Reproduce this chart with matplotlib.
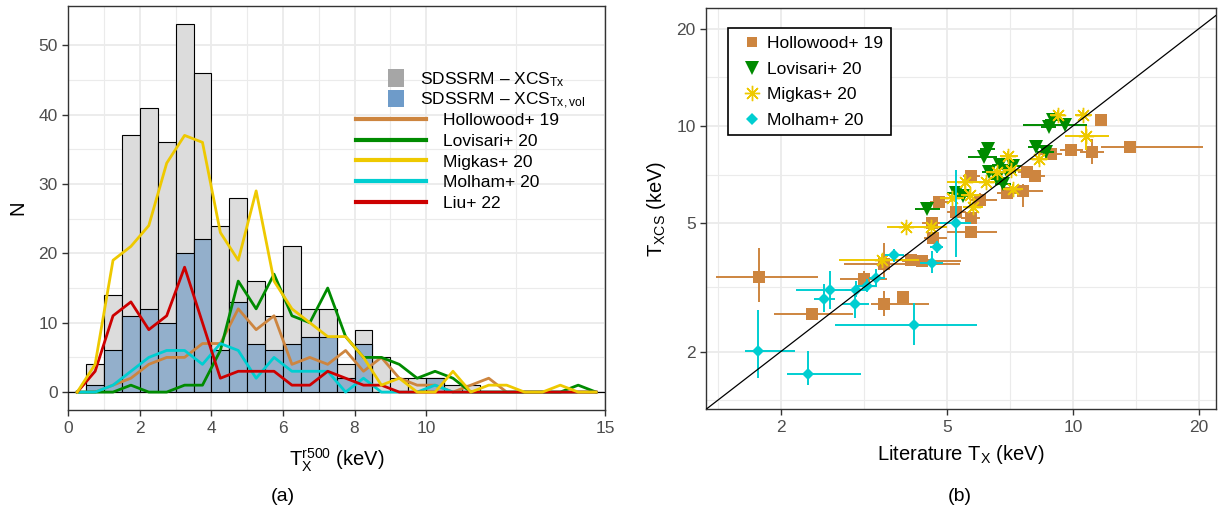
import numpy as np
import matplotlib
matplotlib.use("Agg")
import matplotlib.pyplot as plt
from matplotlib.patches import Patch
from matplotlib.lines import Line2D

plt.rcParams['font.family'] = ['Liberation Sans', 'DejaVu Sans']
plt.rcParams['mathtext.fontset'] = 'custom'
plt.rcParams['mathtext.rm'] = 'Liberation Sans'
plt.rcParams['mathtext.it'] = 'Liberation Sans:italic'

# ---- panel (a): histogram of T_X, 0.5 keV bins from 0 to 15 ----
bin_width = 0.5
bin_lo = 0.0
n_all = [0, 4, 14, 37, 41, 36, 53, 46, 24, 28, 16, 11, 21, 12, 12,
         4, 9, 5, 2, 2, 2, 1, 1, 0, 0, 0, 0, 0, 0, 0]
n_vol = [0, 1, 6, 11, 12, 10, 20, 22, 6, 13, 7, 6, 7, 8, 8,
         2, 7, 0, 0, 0, 2, 0, 0, 0, 0, 0, 0, 0, 0, 0]
hollowood_n = [0, 0, 1, 2, 4, 5, 5, 7, 7, 12, 9, 11, 4, 5, 4,
               6, 3, 5, 2, 1, 1, 0, 1, 2, 0, 0, 0, 0, 0, 0]
lovisari_n = [0, 0, 0, 1, 0, 0, 1, 1, 6, 16, 12, 17, 11, 10, 15,
              8, 5, 5, 4, 2, 3, 2, 0, 0, 0, 0, 0, 0, 1, 0]
migkas_n = [0, 4, 19, 21, 24, 33, 37, 36, 23, 19, 29, 16, 12, 10, 8,
            8, 5, 1, 2, 0, 0, 3, 0, 1, 1, 0, 0, 1, 0, 0]
molham_n = [0, 0, 1, 3, 5, 6, 6, 4, 7, 6, 2, 5, 3, 3, 3,
            0, 2, 0, 0, 0, 1, 0, 0, 0, 0, 0, 0, 0, 0, 0]
liu_n = [0, 3, 11, 13, 9, 11, 18, 10, 2, 3, 3, 3, 1, 1, 3,
         2, 1, 1, 0, 0, 0, 0, 0, 0, 0, 0, 0, 0, 0, 0]

# ---- panel (b): literature vs XCS temperatures (value, lower, upper) ----
hol_x = [1.77, 2.38, 3.16, 3.53, 3.92, 3.53, 4.09, 4.35, 4.63, 4.60, 4.78, 5.26, 5.72,
         5.70, 5.99, 5.72, 6.95, 7.60, 7.75, 8.10, 8.85, 9.90, 11.1, 13.7, 11.7]
hol_xlo = [1.40, 1.93, 2.77, 3.28, 3.80, 2.83, 3.70, 3.90, 4.40, 4.35, 4.55, 5.00, 5.00,
           5.40, 5.70, 5.45, 6.60, 7.20, 7.40, 7.70, 8.30, 9.30, 10.4, 11.7, 11.3]
hol_xhi = [2.45, 2.97, 3.59, 4.52, 4.05, 5.37, 4.60, 5.40, 5.00, 4.85, 5.05, 5.55, 6.60,
           6.00, 6.60, 6.00, 7.30, 8.50, 8.10, 8.60, 9.40, 10.6, 11.9, 20.5, 12.1]
hol_y = [3.40, 2.62, 3.36, 2.80, 2.96, 3.74, 3.85, 3.83, 4.51, 5.00, 5.80, 5.40, 4.70,
         5.20, 5.90, 7.00, 6.20, 6.30, 7.20, 7.00, 8.20, 8.40, 8.30, 8.60, 10.4]
hol_ylo = [2.85, 2.55, 3.20, 2.57, 2.88, 3.38, 3.70, 3.70, 4.35, 4.80, 5.55, 5.20, 4.55,
           5.00, 5.60, 6.70, 5.95, 5.60, 6.90, 6.75, 7.90, 8.10, 7.60, 8.35, 10.1]
hol_yhi = [4.19, 2.70, 3.55, 3.09, 3.04, 4.34, 4.00, 3.98, 4.65, 5.20, 6.05, 5.60, 4.85,
           5.40, 6.20, 7.30, 6.45, 6.60, 7.50, 7.30, 8.50, 8.70, 9.10, 8.85, 10.7]

lov_x = [4.48, 5.26, 5.45, 6.12, 6.25, 6.57, 6.69, 6.95, 7.19, 6.30, 8.16, 8.61, 8.75, 8.97, 9.60, 6.80]
lov_xlo = [4.20, 5.00, 5.20, 5.60, 6.00, 6.30, 6.40, 6.60, 6.90, 6.05, 7.80, 8.20, 8.40, 8.60, 7.60, 6.50]
lov_xhi = [4.80, 5.60, 5.70, 6.60, 6.50, 6.85, 7.00, 7.30, 7.50, 6.55, 8.50, 9.00, 9.10, 9.35, 10.8, 7.10]
lov_y = [5.55, 6.18, 6.05, 8.02, 8.50, 6.87, 7.58, 7.20, 7.49, 7.20, 8.60, 8.30, 9.90, 10.4, 10.1, 6.60]

mig_x = [3.50, 3.98, 4.57, 5.14, 5.53, 5.68, 5.76, 6.19, 6.57, 7.00, 7.10, 7.18, 8.30, 9.20, 10.6, 10.78]
mig_xlo = [2.75, 3.60, 4.20, 4.80, 5.00, 5.40, 5.45, 5.90, 6.20, 6.70, 6.80, 6.80, 7.90, 8.80, 10.1, 9.60]
mig_xhi = [4.28, 4.40, 5.00, 5.50, 6.10, 6.00, 6.10, 6.50, 6.90, 7.40, 7.50, 7.60, 8.70, 9.60, 11.1, 12.2]
mig_y = [3.85, 4.87, 4.88, 5.97, 6.70, 6.10, 5.63, 6.70, 7.20, 8.10, 7.30, 6.40, 7.90, 10.8, 10.8, 9.30]
mig_ylo = [3.70, 4.75, 4.75, 5.80, 6.30, 5.90, 5.45, 6.50, 7.00, 7.85, 7.10, 6.20, 7.60, 10.4, 10.4, 8.40]
mig_yhi = [4.00, 5.00, 5.00, 6.15, 7.10, 6.30, 5.80, 6.90, 7.40, 8.35, 7.50, 6.60, 8.20, 11.2, 11.2, 10.0]

mol_x = [1.76, 2.32, 2.63, 2.54, 3.01, 3.02, 3.22, 3.38, 4.16, 3.73, 4.60, 4.72, 5.26]
mol_xlo = [1.64, 2.07, 2.17, 2.40, 2.80, 2.85, 3.05, 3.25, 2.70, 3.55, 4.30, 4.55, 4.80]
mol_xhi = [2.16, 3.12, 3.16, 2.70, 3.25, 3.20, 3.40, 3.55, 5.90, 3.95, 4.90, 4.90, 5.70]
mol_y = [2.01, 1.71, 3.11, 2.92, 2.80, 3.11, 3.20, 3.39, 2.41, 3.97, 3.77, 4.21, 5.00]
mol_ylo = [1.66, 1.58, 2.71, 2.65, 2.55, 2.95, 3.05, 3.20, 2.10, 3.80, 3.50, 4.05, 3.92]
mol_yhi = [2.69, 2.01, 3.56, 3.25, 3.05, 3.30, 3.35, 3.60, 2.82, 4.15, 4.10, 4.40, 7.30]

c_hol = '#CD853F'
c_lov = '#008B00'
c_mig = '#EEC900'
c_mol = '#00CED1'
c_liu = '#CD0000'
grid_c = '#EBEBEB'
tick_c = '#4D4D4D'


def style_axes(ax):
    for s in ax.spines.values():
        s.set_color('#333333')
        s.set_linewidth(1.0)
    ax.tick_params(which='major', length=4, width=1.0, color='#333333',
                   labelcolor=tick_c, labelsize=12.5)
    ax.tick_params(which='minor', length=0)
    ax.grid(which='major', color=grid_c, lw=1.3, zorder=0)
    ax.grid(which='minor', color=grid_c, lw=0.8, zorder=0)
    ax.set_axisbelow(True)


fig = plt.figure(figsize=(12.26, 5.14), dpi=100)

# ---------------- (a) ----------------
ax1 = fig.add_axes([0.0557, 0.2014, 0.4378, 0.7869])
style_axes(ax1)
edges = bin_lo + bin_width * np.arange(len(n_all) + 1)
lefts = edges[:-1]
centers = lefts + bin_width / 2
ax1.bar(lefts, n_all, width=bin_width, align='edge', color='#DCDCDC',
        edgecolor='black', lw=0.8, zorder=2)
ax1.bar(lefts, n_vol, width=bin_width, align='edge', color='#93AFCB',
        edgecolor='black', lw=0.8, zorder=3)
lw_line = 2.0
ax1.plot(centers, hollowood_n, color=c_hol, lw=lw_line, zorder=4)
ax1.plot(centers, lovisari_n, color=c_lov, lw=lw_line, zorder=4)
ax1.plot(centers, molham_n, color=c_mol, lw=lw_line, zorder=4)
ax1.plot(centers, liu_n, color=c_liu, lw=lw_line, zorder=4)
ax1.plot(centers, migkas_n, color=c_mig, lw=lw_line, zorder=5)
ax1.set_xlim(0, 15)
ax1.set_ylim(-2.65, 55.65)
ax1.set_xticks([0, 2, 4, 6, 8, 10, 15])
ax1.set_xticks([1, 3, 5, 7, 9, 12.5], minor=True)
ax1.set_yticks([0, 10, 20, 30, 40, 50])
ax1.set_yticks([5, 15, 25, 35, 45], minor=True)
ax1.set_xlabel(r'$\mathrm{T_X^{r500}}$ (keV)', fontsize=14.5, labelpad=8)
ax1.set_ylabel('N', fontsize=14.5, labelpad=8)

fill_handles = [Patch(facecolor='#A6A6A6', edgecolor='none'),
                Patch(facecolor='#6E9BC9', edgecolor='none')]
fill_labels = [r'SDSSRM – XCS$_{\mathrm{Tx}}$', r'SDSSRM – XCS$_{\mathrm{Tx,vol}}$']
leg1 = ax1.legend(fill_handles, fill_labels, loc='upper left',
                  bbox_to_anchor=(0.58, 0.865), frameon=False, fontsize=12.5,
                  handlelength=0.9, handleheight=1.2, handletextpad=0.9,
                  labelspacing=0.05, borderpad=0)
ax1.add_artist(leg1)
line_handles = [Line2D([], [], color=c, lw=3) for c in
                [c_hol, c_lov, c_mig, c_mol, c_liu]]
line_labels = ['Hollowood+ 19', 'Lovisari+ 20', 'Migkas+ 20', 'Molham+ 20', 'Liu+ 22']
ax1.legend(line_handles, line_labels, loc='upper left',
           bbox_to_anchor=(0.52, 0.757), frameon=False, fontsize=12.5,
           handlelength=4.0, handletextpad=1.0, labelspacing=0.32, borderpad=0)

# ---------------- (b) ----------------
ax2 = fig.add_axes([0.5759, 0.2037, 0.4159, 0.7807])
style_axes(ax2)
ax2.set_xscale('log')
ax2.set_yscale('log')
lim_lo = 1.325
ax2.set_xlim(lim_lo, 22.0)
ax2.set_ylim(lim_lo, 23.2)
ax2.plot([1, 30], [1, 30], color='black', lw=0.9, zorder=6)


def errs(v, lo, hi):
    v = np.array(v)
    return np.vstack([v - np.array(lo), np.array(hi) - v])


ax2.errorbar(hol_x, hol_y, xerr=errs(hol_x, hol_xlo, hol_xhi),
             yerr=errs(hol_y, hol_ylo, hol_yhi), fmt='s', color=c_hol,
             ms=8, mew=0, elinewidth=1.4, capsize=0, zorder=3)
lov_xe = errs(lov_x, lov_xlo, lov_xhi)
ax2.errorbar(lov_x, lov_y, xerr=lov_xe, fmt='v', color=c_lov,
             ms=10, mew=0, elinewidth=1.4, capsize=0, zorder=4)
ax2.errorbar(mig_x, mig_y, xerr=errs(mig_x, mig_xlo, mig_xhi),
             yerr=errs(mig_y, mig_ylo, mig_yhi), fmt='none', ecolor=c_mig,
             elinewidth=1.4, capsize=0, zorder=5)
ax2.plot(mig_x, mig_y, ls='none', marker=(8, 2, 0), ms=11, mew=1.0,
         color=c_mig, zorder=5)
ax2.errorbar(mol_x, mol_y, xerr=errs(mol_x, mol_xlo, mol_xhi),
             yerr=errs(mol_y, mol_ylo, mol_yhi), fmt='D', color=c_mol,
             ms=6.5, mew=0, elinewidth=1.4, capsize=0, zorder=5)

ticks = [2, 5, 10, 20]
ax2.set_xticks(ticks)
ax2.set_xticklabels([str(t) for t in ticks])
ax2.set_yticks(ticks)
ax2.set_yticklabels([str(t) for t in ticks])
minor_b = [1.414, 3.162, 7.071, 14.14]
ax2.set_xticks(minor_b, minor=True)
ax2.set_yticks(minor_b, minor=True)
ax2.set_xticklabels([], minor=True)
ax2.set_yticklabels([], minor=True)
ax2.set_xlabel(r'Literature $\mathrm{T_X}$ (keV)', fontsize=14.5, labelpad=6)
ax2.set_ylabel(r'$\mathrm{T_{XCS}}$ (keV)', fontsize=14.5, labelpad=6)

pt_handles = [Line2D([], [], ls='none', marker='s', color=c_hol, ms=7.5, mew=0),
              Line2D([], [], ls='none', marker='v', color=c_lov, ms=10, mew=0),
              Line2D([], [], ls='none', marker=(8, 2, 0), color=c_mig, ms=11, mew=1.0),
              Line2D([], [], ls='none', marker='D', color=c_mol, ms=6, mew=0)]
pt_labels = ['Hollowood+ 19', 'Lovisari+ 20', 'Migkas+ 20', 'Molham+ 20']
leg = ax2.legend(pt_handles, pt_labels, loc='upper left', bbox_to_anchor=(0.0437, 0.949),
                 fontsize=12.5, frameon=True, fancybox=False, framealpha=1,
                 handlelength=1.8, handletextpad=0.0, labelspacing=0.59,
                 borderpad=0.45, borderaxespad=0)
leg.get_frame().set_edgecolor('black')
leg.get_frame().set_linewidth(1.2)

fig.text(0.2308, 0.025, '(a)', fontsize=14, ha='center')
fig.text(0.783, 0.025, '(b)', fontsize=14, ha='center')

fig.savefig('out.png', dpi=100)
